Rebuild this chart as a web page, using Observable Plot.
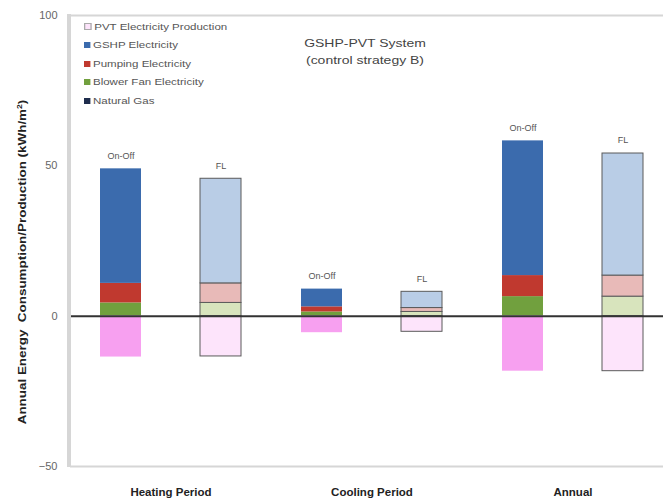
<!DOCTYPE html>
<html>
<head>
<meta charset="utf-8">
<script src="https://cdn.jsdelivr.net/npm/d3@7"></script>
<script src="https://cdn.jsdelivr.net/npm/@observablehq/plot@0.6"></script>
<style>
  body { margin: 0; background: #fff; }
  #wrap { position: relative; width: 663px; height: 500px; font-family: "Liberation Sans", Arial, sans-serif; overflow: hidden; }
  #wrap svg { position: absolute; left: 0; top: 0; }
  [aria-label^="fx-axis"] text { font-weight: bold; font-size: 11.5px; fill: #222; }
  [aria-label^="y-axis"] text { font-size: 11px; fill: #666; }
  .axisline { position: absolute; left: 67px; top: 14px; width: 4px; height: 453px; background: #d6d6d6; }
  .legend { position: absolute; left: 84px; top: 18px; font-size: 9px; color: #555; line-height: 18.4px; transform: scaleX(1.28); transform-origin: 0 0; }
  .legend .sw { display: inline-block; width: 5px; height: 6px; margin-right: 2px; vertical-align: 0px; }
  .title { position: absolute; left: 265px; width: 200px; top: 35px; text-align: center; font-size: 11px; color: #444; line-height: 16.5px; transform: scaleX(1.27); transform-origin: 50% 0; }
  .ylab { position: absolute; left: 22px; top: 262px; transform: translate(-50%, -50%) rotate(-90deg) scaleX(1.22); white-space: nowrap; font-size: 11px; font-weight: bold; color: #222; }
</style>
</head>
<body>
<div id="wrap"></div>
<script>
// ---- data ----
const periods = ["Heating Period", "Cooling Period", "Annual"];
const strategies = ["On-Off", "FL"];
const seriesNames = ["PVT Electricity Production", "GSHP Electricity", "Pumping Electricity", "Blower Fan Electricity", "Natural Gas"];
// bars in order: Heating On-Off, Heating FL, Cooling On-Off, Cooling FL, Annual On-Off, Annual FL
const barPeriod = ["Heating Period", "Heating Period", "Cooling Period", "Cooling Period", "Annual", "Annual"];
const barStrategy = ["On-Off", "FL", "On-Off", "FL", "On-Off", "FL"];
const naturalGas = [0, 0, 0, 0, 0, 0];
const blowerFan = [4.4, 4.4, 1.4, 1.4, 6.5, 6.5];
const pumping = [6.5, 6.5, 1.7, 1.3, 7.0, 7.0];
const gshp = [38.1, 34.8, 5.9, 5.4, 44.8, 40.6];
const pvt = [-13.6, -13.4, -5.5, -5.2, -18.3, -18.3];
const yTicks = [-50, 0, 50, 100];

// ---- styles ----
const colorOnOff = {
  "Natural Gas": "#1f2d4d",
  "Blower Fan Electricity": "#71a03e",
  "Pumping Electricity": "#c0392f",
  "GSHP Electricity": "#3b6bad",
  "PVT Electricity Production": "#f7a0f0"
};
const colorFL = {
  "Natural Gas": "#8d96a8",
  "Blower Fan Electricity": "#d8e4bd",
  "Pumping Electricity": "#e8bab8",
  "GSHP Electricity": "#b9cde6",
  "PVT Electricity Production": "#fde4fb"
};

// ---- table ----
const stackOrder = [
  ["Natural Gas", naturalGas],
  ["Blower Fan Electricity", blowerFan],
  ["Pumping Electricity", pumping],
  ["GSHP Electricity", gshp],
  ["PVT Electricity Production", pvt]
];
const rows = [];
barPeriod.forEach((p, i) => {
  stackOrder.forEach(([name, arr]) => {
    rows.push({period: p, strategy: barStrategy[i], series: name, value: arr[i], key: name + "|" + barStrategy[i]});
  });
});
const tops = barPeriod.map((p, i) => ({
  period: p, strategy: barStrategy[i],
  top: naturalGas[i] + blowerFan[i] + pumping[i] + gshp[i]
}));
const colorDomain = [], colorRange = [];
for (const name of seriesNames) {
  colorDomain.push(name + "|On-Off"); colorRange.push(colorOnOff[name]);
  colorDomain.push(name + "|FL"); colorRange.push(colorFL[name]);
}

const chart = Plot.plot({
  width: 663,
  height: 500,
  marginLeft: 68,
  marginRight: 0,
  marginTop: 15,
  marginBottom: 34,
  style: {fontFamily: "'Liberation Sans', Arial, sans-serif", fontSize: "9px", background: "transparent"},
  fx: {domain: periods, range: [69.7, 674], padding: 0, label: null, tickSize: 0, tickPadding: 21, axis: "bottom"},
  x: {domain: strategies, paddingInner: 0.593, paddingOuter: 0.297, axis: null},
  y: {domain: [-50, 100], ticks: yTicks, tickSize: 0, tickPadding: 13, label: null},
  color: {domain: colorDomain, range: colorRange},
  marks: [
    Plot.ruleY([100, -50], {stroke: "#d6d6d6", strokeWidth: 2}),
    Plot.barY(rows, {
      fx: "period", x: "strategy", y: "value", fill: "key",
      stroke: "#5a5a5a", strokeWidth: 1,
      strokeOpacity: d => d.strategy === "FL" ? 1 : 0
    }),
    Plot.ruleY([0], {stroke: "#333", strokeWidth: 2}),
    Plot.text(tops, {fx: "period", x: "strategy", y: "top", text: "strategy", dy: -13, fontSize: 9, fill: "#555"})
  ]
});
const wrap = document.getElementById("wrap");
wrap.appendChild(chart);

// soften any tall, thin dark line drawn along the left edge of the frame
for (const el of chart.querySelectorAll("line, path, rect")) {
  const b = el.getBoundingClientRect();
  if (b.width < 5 && b.height > 300) { el.style.stroke = "#d6d6d6"; el.style.fill = "#d6d6d6"; }
}

// left axis line (gray, like the original frame)
const axisLine = document.createElement("div");
axisLine.className = "axisline";
wrap.appendChild(axisLine);

// legend
const legend = document.createElement("div");
legend.className = "legend";
legend.innerHTML = seriesNames.map(name => {
  const c = name === "PVT Electricity Production" ? colorFL[name] : colorOnOff[name];
  const border = name === "PVT Electricity Production" ? "border:1px solid #aaa;width:4px;height:5px;" : "";
  return `<div><span class="sw" style="background:${c};${border}"></span>${name}</div>`;
}).join("");
wrap.appendChild(legend);

// in-plot title
const title = document.createElement("div");
title.className = "title";
title.innerHTML = "GSHP-PVT System<br>(control strategy B)";
wrap.appendChild(title);

// y axis label
const ylab = document.createElement("div");
ylab.className = "ylab";
ylab.innerHTML = "Annual Energy&nbsp; Consumption/Production (kWh/m<sup style='font-size:7px'>2</sup>)";
wrap.appendChild(ylab);
</script>
</body>
</html>
